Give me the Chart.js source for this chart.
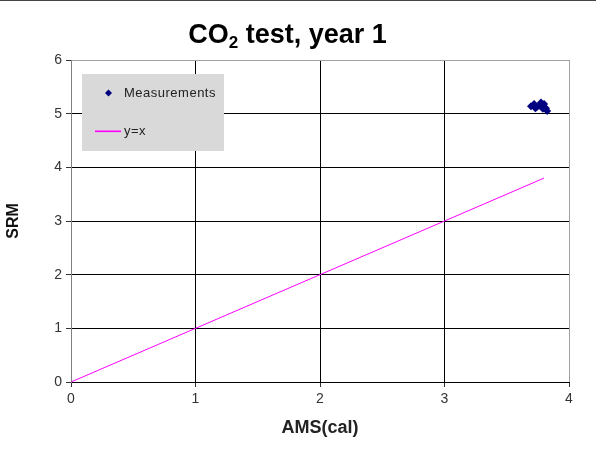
<!DOCTYPE html>
<html>
<head>
<meta charset="utf-8">
<script src="https://cdn.jsdelivr.net/npm/chart.js@4/dist/chart.umd.min.js"></script>
<style>
html,body{margin:0;padding:0;background:#fff;}
body{width:596px;height:450px;overflow:hidden;}
#wrap{position:relative;width:596px;height:450px;border-top:1px solid #444;box-sizing:border-box;}
canvas{display:block;}
</style>
</head>
<body>
<div id="wrap"><canvas id="c" width="596" height="449"></canvas></div>
<script>
// ---- data ----
const measX = [3.695, 3.72, 3.74, 3.775, 3.80, 3.815, 3.825, 3.79, 3.73, 3.76];
const measY = [5.14, 5.18, 5.12, 5.21, 5.18, 5.10, 5.05, 5.09, 5.10, 5.15];
const lineX = [0, 3.8];
const lineY = [0, 3.8];
const xTicks = [0, 1, 2, 3, 4];
const yTicks = [0, 1, 2, 3, 4, 5, 6];
const seriesNames = ['Measurements', 'y=x'];
const titleMain = 'CO';
const titleSub = '2';
const titleRest = ' test, year 1';
const xTitle = 'AMS(cal)';
const yTitle = 'SRM';

const MEAS_COLOR = '#000080';
const LINE_COLOR = '#ff00ff';
const FONT = '"Liberation Sans", Arial, sans-serif';

const titlePlugin = {
  id: 'customTitle',
  afterDraw(chart) {
    const ctx = chart.ctx;
    ctx.save();
    ctx.fillStyle = '#000';
    ctx.textBaseline = 'alphabetic';
    const big = 'bold 27px ' + FONT;
    const small = 'bold 17px ' + FONT;
    ctx.font = big;
    const w1 = ctx.measureText(titleMain).width;
    const w3 = ctx.measureText(titleRest).width;
    ctx.font = small;
    const w2 = ctx.measureText(titleSub).width;
    const total = w1 + w2 + w3;
    let x = 287.5 - total / 2;
    const y = 42;
    ctx.font = big; ctx.textAlign = 'left';
    ctx.fillText(titleMain, x, y); x += w1;
    ctx.font = small; ctx.fillText(titleSub, x, y + 5); x += w2;
    ctx.font = big; ctx.fillText(titleRest, x, y);
    ctx.restore();
  }
};

const legendPlugin = {
  id: 'customLegend',
  afterDraw(chart) {
    const ctx = chart.ctx;
    ctx.save();
    ctx.globalAlpha = 1;
    ctx.fillStyle = '#d9d9d9';
    ctx.fillRect(82, 73, 142, 77);
    // marker
    ctx.fillStyle = MEAS_COLOR;
    ctx.beginPath();
    const mx = 108.5, my = 92, r = 3.5;
    ctx.moveTo(mx, my - r); ctx.lineTo(mx + r, my); ctx.lineTo(mx, my + r); ctx.lineTo(mx - r, my); ctx.closePath();
    ctx.fill();
    // line sample
    ctx.fillStyle = LINE_COLOR;
    ctx.fillRect(95, 129.5, 26, 1.6);
    ctx.fillStyle = '#222';
    ctx.font = '13px ' + FONT;
    ctx.textBaseline = 'middle'; ctx.textAlign = 'left';
    if ('letterSpacing' in ctx) ctx.letterSpacing = '0.5px';
    ctx.fillText(seriesNames[0], 124, 92);
    ctx.fillText(seriesNames[1], 124, 130);
    ctx.restore();
  }
};

new Chart(document.getElementById('c'), {
  type: 'scatter',
  data: {
    datasets: [
      {
        label: seriesNames[0],
        data: measX.map((x, i) => ({x: x, y: measY[i]})),
        backgroundColor: MEAS_COLOR,
        borderColor: MEAS_COLOR,
        pointStyle: 'rectRot',
        pointRadius: 4,
        borderWidth: 0,
        showLine: false
      },
      {
        label: seriesNames[1],
        data: lineX.map((x, i) => ({x: x, y: lineY[i]})),
        borderColor: LINE_COLOR,
        backgroundColor: LINE_COLOR,
        borderWidth: 1,
        pointRadius: 0,
        showLine: true
      }
    ]
  },
  options: {
    responsive: false,
    animation: false,
    devicePixelRatio: 1,
    layout: { padding: { top: 59, right: 27, left: 0, bottom: 0 } },
    plugins: { legend: { display: false }, title: { display: false }, tooltip: { enabled: false } },
    scales: {
      x: {
        type: 'linear', min: 0, max: 4,
        afterBuildTicks(s) { s.ticks = xTicks.map(v => ({value: v})); },
        afterFit(s) { s.height = 68; },
        ticks: { color: '#333', font: { size: 14, family: FONT }, padding: 4, maxRotation: 0 },
        grid: {
          color: c => (c.tick && c.tick.value === 4) ? '#a0a0a0' : '#000',
          tickColor: '#333', tickLength: 5, lineWidth: 1
        },
        border: { color: '#000', width: 1 },
        title: { display: true, text: xTitle, color: '#222', font: { size: 18, weight: 'bold', family: FONT }, padding: { top: 4, bottom: 11 } }
      },
      y: {
        type: 'linear', min: 0, max: 6,
        afterBuildTicks(s) { s.ticks = yTicks.map(v => ({value: v})); },
        afterFit(s) { s.width = 71; },
        ticks: { color: '#333', font: { size: 14, family: FONT }, padding: 4 },
        grid: {
          color: c => (c.tick && c.tick.value === 6) ? '#a0a0a0' : '#000',
          tickColor: '#333', tickLength: 5, lineWidth: 1
        },
        border: { color: '#808080', width: 1 },
        title: { display: true, text: yTitle, color: '#111', font: { size: 16, weight: 'bold', family: FONT }, padding: 4 }
      }
    }
  },
  plugins: [titlePlugin, legendPlugin]
});
</script>
</body>
</html>
